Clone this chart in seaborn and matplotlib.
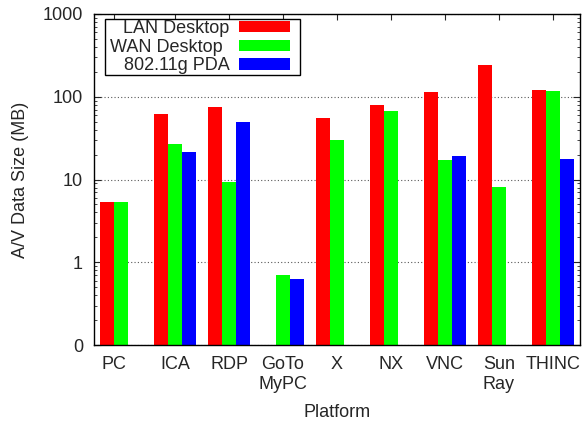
import numpy as np
import pandas as pd
import seaborn as sns
import matplotlib.pyplot as plt
from matplotlib.patches import Patch, Rectangle
from matplotlib.legend_handler import HandlerPatch

# values (MB, log scale); None = no bar
platforms = ['PC', 'ICA', 'RDP', 'GoTo\nMyPC', 'X', 'NX', 'VNC', 'Sun\nRay', 'THINC']
lan_desktop = [5.4, 62, 76, None, 55, 79, 115, 243, 119]
wan_desktop = [5.4, 27, 9.2, 0.71, 30, 68, 17, 8.2, 118]
pda_80211g = [None, 21.5, 50, 0.62, None, None, 19, None, 17.5]
series_names = ['LAN Desktop', 'WAN Desktop', '802.11g PDA']
series_colors = ['#ff0000', '#00ff00', '#0000ff']

rows = []
for name, vals in zip(series_names, [lan_desktop, wan_desktop, pda_80211g]):
    for p, v in zip(platforms, vals):
        if v is not None:
            rows.append({'Platform': p, 'Setup': name, 'Size': v})
df = pd.DataFrame(rows)

FS = 13
sns.set_style('ticks')
plt.rcParams['font.family'] = ['Liberation Sans', 'DejaVu Sans']
plt.rcParams['font.size'] = FS

fig = plt.figure(figsize=(5.82, 4.22), dpi=100)
ax = fig.add_axes([94 / 582, 1 - 345 / 422, 486 / 582, 331 / 422])
ax.set_yscale('log')

bar_w = 0.76
sns.barplot(data=df, x='Platform', y='Size', hue='Setup', order=platforms,
            hue_order=series_names, palette=series_colors, width=bar_w,
            gap=0, errorbar=None, linewidth=0, saturation=1, ax=ax, legend=False)

ax.set_xlim(-0.5, len(platforms) - 0.5)
ax.set_ylim(0.1, 1000)
ax.set_yticks([0.1, 1, 10, 100, 1000])
ax.set_yticklabels(['0', '1', '10', '100', '1000'])

xt = list(range(len(platforms)))
xt[0] = -bar_w / 6
ax.set_xticks(xt)
ax.set_xticklabels(platforms)

ax.tick_params(axis='y', which='major', direction='in', length=5, width=0.8,
               left=True, right=True, pad=8, labelsize=FS)
ax.tick_params(axis='y', which='minor', direction='in', length=2.5, width=0.6,
               left=True, right=True)
ax.tick_params(axis='x', which='major', direction='in', length=4, width=0.8,
               bottom=False, top=True, pad=8, labelsize=FS)
ax.tick_params(axis='x', which='minor', bottom=False, top=False)

ax.set_axisbelow(True)
ax.yaxis.grid(True, which='major', linestyle=(0, (1, 2)), color='0.35', linewidth=0.8)
for s in ax.spines.values():
    s.set_visible(True)
    s.set_linewidth(1)
    s.set_color('black')

ax.set_xlabel('Platform', fontsize=FS, labelpad=8)
ax.set_ylabel('A/V Data Size (MB)', fontsize=FS, labelpad=10)


# key sample box leaves some room on its right, like gnuplot's key
def key_box(legend, orig_handle, xdescent, ydescent, width, height, fontsize):
    return Rectangle((-xdescent, -ydescent), width - 0.5 * fontsize, height)


handles = [Patch(facecolor=c, edgecolor='none') for c in series_colors]
leg = ax.legend(handles, series_names, loc='upper left', bbox_to_anchor=(0.0226, 0.985),
                borderaxespad=0, markerfirst=False, handlelength=3.33, handleheight=0.6,
                labelspacing=0.1, handletextpad=1.11, borderpad=0.05, fancybox=False,
                framealpha=1, edgecolor='black', fontsize=FS,
                handler_map={Patch: HandlerPatch(patch_func=key_box)})
leg.get_frame().set_linewidth(1)

# right-align legend labels
fig.canvas.draw()
renderer = fig.canvas.get_renderer()
widths = [t.get_window_extent(renderer).width for t in leg.get_texts()]
widest = max(widths)
for t, w in zip(leg.get_texts(), widths):
    t.set_position((widest - w + 4, 0))

fig.savefig('out.png', dpi=100)
